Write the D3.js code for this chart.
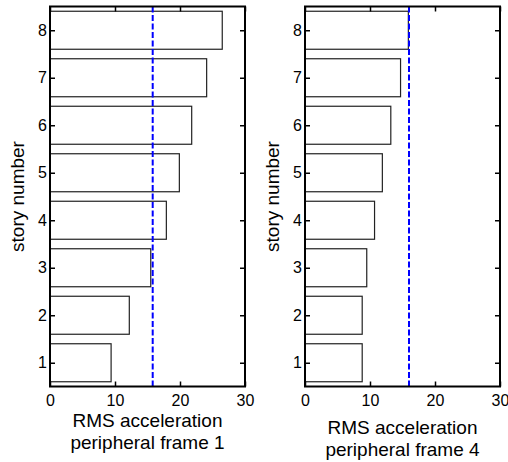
<!DOCTYPE html>
<html>
<head>
<meta charset="utf-8">
<script src="https://cdn.jsdelivr.net/npm/d3@7"></script>
<style>
  body { margin: 0; background: #fff; }
  svg { font-family: "Liberation Sans", Arial, Helvetica, sans-serif; }
  .tick text { font-size: 16px; fill: #000; }
  .tick line { stroke: #000; stroke-width: 1.5; }
  .domain { display: none; }
  .lab { font-size: 19px; fill: #000; }
</style>
</head>
<body>
<div id="chart"></div>
<script>
var width = 508,
    height = 462;

// story numbers and RMS acceleration per story
var stories = [1, 2, 3, 4, 5, 6, 7, 8];
var frame1 = [9.4, 12.2, 15.5, 17.9, 19.9, 21.8, 24.1, 26.5];
var frame4 = [8.8, 8.8, 9.5, 10.7, 11.9, 13.2, 14.7, 15.9];
var limits = [15.8, 16.0];
var xTicks = [0, 10, 20, 30];
var titles = [["RMS acceleration", "peripheral frame 1"],
              ["RMS acceleration", "peripheral frame 4"]];

var svg = d3.select("#chart")
    .append("svg")
    .attr("width", width)
    .attr("height", height);

var panelW = 195,
    plotTop = 6.5,
    plotBottom = 386.5;

var x = d3.scaleLinear().domain([0, 30]).range([0, panelW]);
var y = d3.scaleLinear().domain([0.5, 8.5]).range([plotBottom, plotTop]);

function drawPanel(left, values, limit, title, labelShift) {
    var g = svg.append("g")
        .attr("transform", "translate(" + left + ",0)");

    // bars
    g.selectAll("rect.bar")
        .data(values)
        .enter().append("rect")
        .attr("class", "bar")
        .attr("x", x(0))
        .attr("y", function (d, i) { return y(stories[i] + 0.4); })
        .attr("width", function (d) { return x(d) - x(0); })
        .attr("height", y(0.6) - y(1.4))
        .style("fill", "#fff")
        .style("stroke", "#222")
        .style("stroke-width", 1.2);

    // dashed limit line
    g.append("line")
        .attr("x1", x(limit))
        .attr("x2", x(limit))
        .attr("y1", plotTop)
        .attr("y2", plotBottom)
        .style("stroke", "#0000ff")
        .style("stroke-width", 2)
        .style("stroke-dasharray", "6,2.5");

    // axes, ticks inside like matlab
    g.append("g")
        .attr("transform", "translate(0," + plotBottom + ")")
        .call(d3.axisBottom(x).tickValues(xTicks).tickSizeInner(-5).tickSizeOuter(0).tickPadding(8));

    g.append("g")
        .attr("transform", "translate(0," + plotTop + ")")
        .call(d3.axisTop(x).tickValues(xTicks).tickSizeInner(-5).tickSizeOuter(0).tickFormat(""));

    g.append("g")
        .call(d3.axisLeft(y).tickValues(stories).tickSizeInner(-5).tickSizeOuter(0).tickPadding(3));

    g.append("g")
        .attr("transform", "translate(" + panelW + ",0)")
        .call(d3.axisRight(y).tickValues(stories).tickSizeInner(-5).tickSizeOuter(0).tickFormat(""));

    // box
    g.append("rect")
        .attr("x", 0)
        .attr("y", plotTop)
        .attr("width", panelW)
        .attr("height", plotBottom - plotTop)
        .style("fill", "none")
        .style("stroke", "#000")
        .style("stroke-width", 2);

    // labels
    g.append("text")
        .attr("class", "lab")
        .attr("transform", "translate(-26," + ((plotTop + plotBottom) / 2) + ") rotate(-90)")
        .style("text-anchor", "middle")
        .text("story number");

    title.forEach(function (t, i) {
        g.append("text")
            .attr("class", "lab")
            .attr("x", panelW / 2)
            .attr("y", 427 + labelShift + i * 22)
            .style("text-anchor", "middle")
            .text(t);
    });
}

drawPanel(50, frame1, limits[0], titles[0], 0);
drawPanel(305, frame4, limits[1], titles[1], 7);
</script>
</body>
</html>
